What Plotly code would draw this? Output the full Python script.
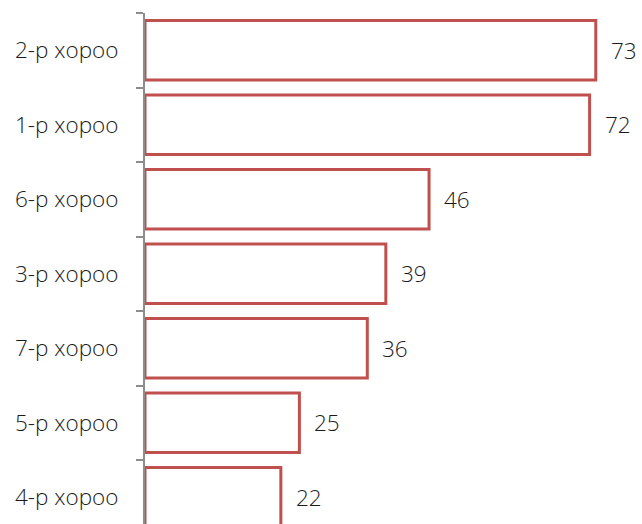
import plotly.graph_objects as go

categories = ["2-р хороо", "1-р хороо", "6-р хороо", "3-р хороо", "7-р хороо", "5-р хороо", "4-р хороо"]
values = [73, 72, 46, 39, 36, 25, 22]

fig = go.Figure()
fig.add_trace(go.Bar(
    y=categories, x=values, orientation="h",
    marker=dict(color="white", line=dict(color="#C0504D", width=3)),
    width=0.8, cliponaxis=True, hoverinfo="skip",
))
for c, v in zip(categories, values):
    fig.add_annotation(x=v, y=c, text=str(v), showarrow=False, xanchor="left",
                       xshift=13, font=dict(family="Open Sans", size=22.5, color="#1A1A1A", weight=300))

fig.update_layout(
    width=642, height=524,
    margin=dict(l=145, r=3, t=13, b=0),
    plot_bgcolor="white", paper_bgcolor="white",
    showlegend=False,
    font=dict(family="Open Sans", size=22.5, color="#1A1A1A", weight=300),
    xaxis=dict(range=[0, 80], visible=False, showgrid=False, zeroline=False),
    yaxis=dict(type="category", range=[6.359, -0.5], showline=True, linecolor="#8C8C8C", linewidth=2,
               ticks="outside", ticklen=7, tickcolor="#8C8C8C", tickwidth=2, tickson="boundaries",
               ticklabelstandoff=20, showgrid=False, zeroline=False),
)
fig.write_html("out.html", config={"displayModeBar": False, "staticPlot": True},
               post_script="document.body.style.margin='0';document.body.style.overflow='hidden';")
